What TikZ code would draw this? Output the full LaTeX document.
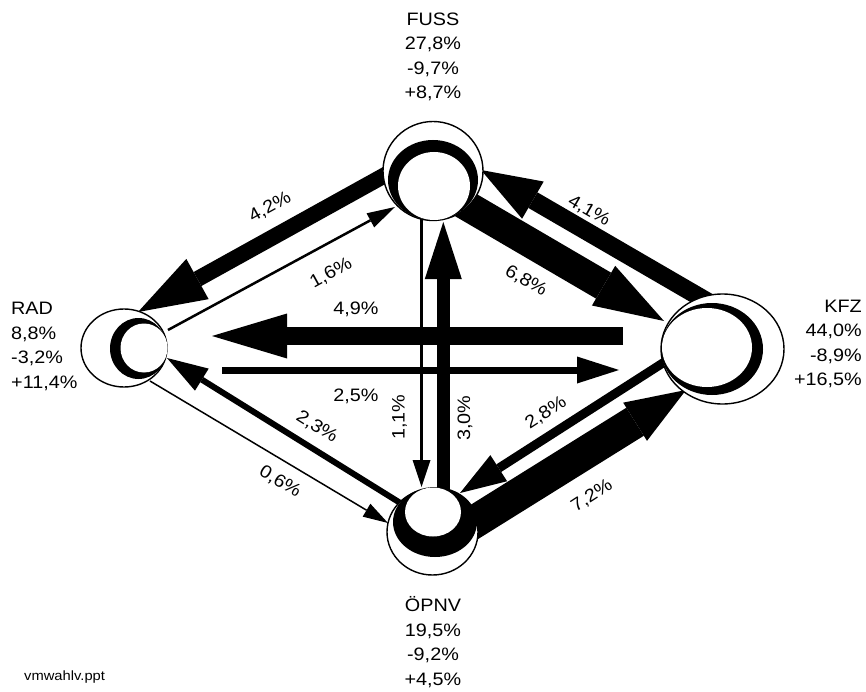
\documentclass[tikz,border=0pt]{standalone}
\usepackage{fontspec}
\setmainfont{Liberation Sans}[FakeStretch=1.1]
\usetikzlibrary{arrows.meta,shapes.geometric}
\newcommand{\lblfont}{\fontsize{18}{24.5}\selectfont}
\newcommand{\smallfnt}{\fontsize{13.4}{15}\selectfont}
\begin{document}
\begin{tikzpicture}[x=1pt,y=-1pt,
  flow/.style={draw=black,line cap=butt},
  lbl/.style={font=\lblfont,inner sep=0pt},
  outerc/.style={ellipse,draw=black,line width=1.4pt,fill=white,inner sep=0pt},
  blackc/.style={ellipse,fill=black,inner sep=0pt},
  whitec/.style={ellipse,fill=white,inner sep=0pt}]
\useasboundingbox (0,0) rectangle (866,692);
% arrow end points
\coordinate (s42) at (405,164); \coordinate (t42) at (138,312);
\coordinate (s16) at (168,330); \coordinate (t16) at (395,207);
\coordinate (s41) at (710,303); \coordinate (t41) at (481,170);
\coordinate (s68) at (440,190); \coordinate (t68) at (664,321);
\coordinate (s49) at (623,336); \coordinate (t49) at (212,336);
\coordinate (s25) at (222,370); \coordinate (t25) at (619,370);
\coordinate (s11) at (421.5,215); \coordinate (t11) at (421.5,487);
\coordinate (s30) at (443.3,505); \coordinate (t30) at (443.3,222);
\coordinate (s23) at (410,509); \coordinate (t23) at (167,358);
\coordinate (s06) at (150,381); \coordinate (t06) at (388,523);
\coordinate (s28) at (680,352); \coordinate (t28) at (460,493);
\coordinate (s72) at (455,534); \coordinate (t72) at (686,390);
% arrows
\draw[flow,line width=16pt,-{Triangle[length=68pt,width=46pt,line width=0pt]}] (s42) -- (t42);
\draw[flow,line width=2.5pt,-{Triangle[length=28pt,width=16pt,line width=0pt]}] (s16) -- (t16);
\draw[flow,line width=18pt,-{Triangle[length=60pt,width=43pt,line width=0pt]}] (s41) -- (t41);
\draw[flow,line width=30pt,-{Triangle[length=70pt,width=46pt,line width=0pt]}] (s68) -- (t68);
\draw[flow,line width=18pt,-{Triangle[length=75pt,width=45pt,line width=0pt]}] (s49) -- (t49);
\draw[flow,line width=7pt,-{Triangle[length=42pt,width=27pt,line width=0pt]}] (s25) -- (t25);
\draw[flow,line width=3.3pt,-{Triangle[length=27pt,width=18pt,line width=0pt]}] (s11) -- (t11);
\draw[flow,line width=13pt,-{Triangle[length=57pt,width=37pt,line width=0pt]}] (s30) -- (t30);
\draw[flow,line width=6pt,-{Triangle[length=41pt,width=26pt,line width=0pt]}] (s23) -- (t23);
\draw[flow,line width=1.5pt,-{Triangle[length=25pt,width=15pt,line width=0pt]}] (s06) -- (t06);
\draw[flow,line width=9pt,-{Triangle[length=46pt,width=31pt,line width=0pt]}] (s28) -- (t28);
\draw[flow,line width=33pt,-{Triangle[length=60pt,width=45pt,line width=0pt]}] (s72) -- (t72);
% mode circles
\node[outerc,minimum width=100pt,minimum height=99pt] (fuss) at (433,171) {};
\node[blackc,minimum width=90pt,minimum height=80pt] (fussb) at (433,180) {};
\node[whitec,minimum width=72pt,minimum height=68pt] (fussw) at (434,186) {};
\node[outerc,minimum width=86pt,minimum height=78pt] (rad) at (124,348) {};
\node[blackc,minimum width=57pt,minimum height=61pt] (radb) at (138.5,348.5) {};
\node[whitec,minimum width=47pt,minimum height=49pt] (radw) at (144,348) {};
\node[outerc,minimum width=123pt,minimum height=110pt] (kfz) at (722.5,349) {};
\node[blackc,minimum width=102pt,minimum height=92pt] (kfzb) at (712,349) {};
\node[whitec,minimum width=90pt,minimum height=79pt] (kfzw) at (707,347.5) {};
\node[outerc,minimum width=91pt,minimum height=86pt] (oepnv) at (432.5,532) {};
\node[blackc,minimum width=84pt,minimum height=70pt] (oepnvb) at (435,522) {};
\node[whitec,minimum width=56pt,minimum height=49pt] (oepnvw) at (433,512) {};
% mode texts
\node[lbl,align=center] (tfuss) at (433,57) {FUSS\\27,8\%\\-9,7\%\\+8,7\%};
\node[lbl,align=left,anchor=west] (trad) at (11,346.5) {RAD\\8,8\%\\-3,2\%\\+11,4\%};
\node[lbl,align=right,anchor=east] (tkfz) at (862,344) {KFZ\\44,0\%\\-8,9\%\\+16,5\%};
\node[lbl,align=center] (toepnv) at (433,642) {ÖPNV\\19,5\%\\-9,2\%\\+4,5\%};
% flow labels
\node[lbl,rotate=29] (l42) at (270,207) {4,2\%};
\node[lbl,rotate=29] (l16) at (331,273) {1,6\%};
\node[lbl,rotate=-30] (l41) at (589,211) {4,1\%};
\node[lbl,rotate=-30] (l68) at (526,281) {6,8\%};
\node[lbl] (l49) at (356,309) {4,9\%};
\node[lbl] (l25) at (356,396) {2,5\%};
\node[lbl,rotate=90] (l11) at (399.5,417) {1,1\%};
\node[lbl,rotate=90] (l30) at (465,418) {3,0\%};
\node[lbl,rotate=-32] (l23) at (317,427) {2,3\%};
\node[lbl,rotate=-31] (l06) at (280,482) {0,6\%};
\node[lbl,rotate=33] (l28) at (546,413) {2,8\%};
\node[lbl,rotate=33] (l72) at (592,496) {7,2\%};
\node[font=\smallfnt,inner sep=0pt,anchor=base west] (file) at (24,680) {vmwahlv.ppt};
\end{tikzpicture}
\end{document}
